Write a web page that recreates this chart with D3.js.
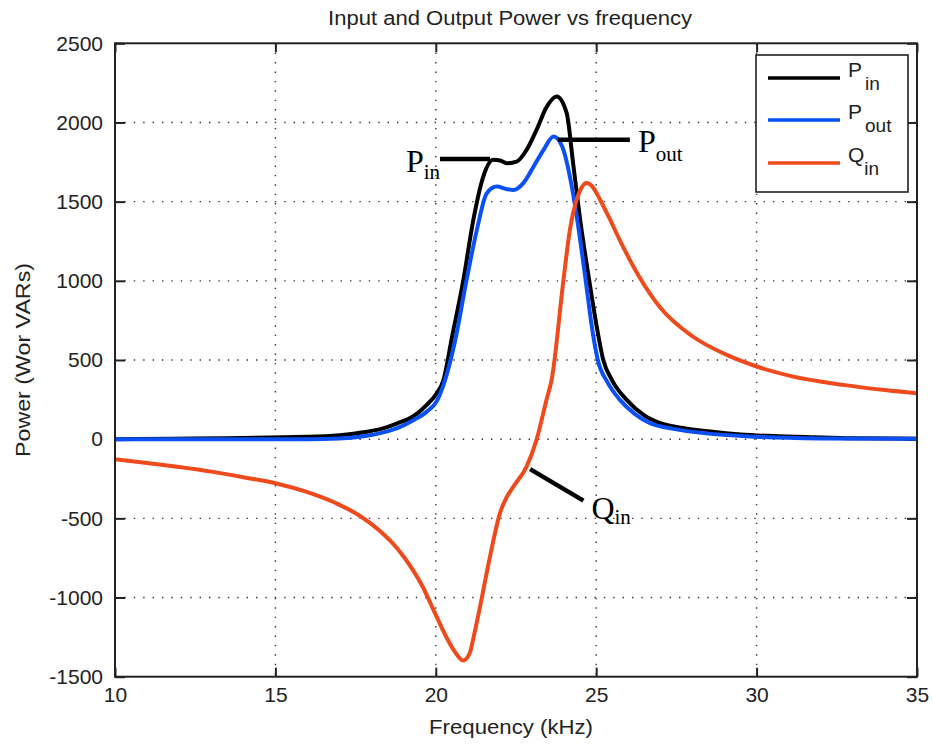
<!DOCTYPE html>
<html>
<head>
<meta charset="utf-8">
<script src="https://cdn.jsdelivr.net/npm/d3@7"></script>
<style>
  html, body { margin: 0; padding: 0; background: #fff; }
  svg { display: block; }
  text { font-family: "Liberation Sans", Arial, sans-serif; fill: #222; }
  .serif { font-family: "Liberation Serif", "Times New Roman", serif; fill: #000; }
</style>
</head>
<body>
<svg id="chart" width="933" height="746"></svg>
<script>
// ---- Data ----
const xTicks = [10, 15, 20, 25, 30, 35];
const yTicks = [-1500, -1000, -500, 0, 500, 1000, 1500, 2000, 2500];

const pinFreq = [10, 16, 17, 17.8, 18.3, 18.8, 19.3, 19.72, 20.03, 20.24, 20.5, 20.86, 21.17, 21.48, 21.79, 22.0, 22.21, 22.52, 22.83, 23.14, 23.46, 23.77, 24.08, 24.28, 24.5, 24.78, 25.0, 25.22, 25.5, 25.95, 26.5, 27.0, 27.7, 28.55, 29.5, 30.5, 31.8, 33, 35];
const pinVals = [0, 15, 25, 45, 65, 100, 145, 217, 290, 374, 640, 1006, 1385, 1658, 1764, 1760, 1743, 1753, 1827, 1953, 2100, 2164, 2059, 1743, 1385, 1006, 730, 500, 370, 248, 150, 101, 70, 48, 30, 20, 12, 6, 3];

const poutFreq = [10, 16, 17, 17.8, 18.3, 18.8, 19.3, 19.72, 20.03, 20.29, 20.6, 20.96, 21.28, 21.59, 21.9, 22.2, 22.42, 22.73, 23.05, 23.36, 23.67, 23.94, 24.2, 24.41, 24.67, 24.85, 25.05, 25.35, 25.74, 26.2, 26.68, 27.4, 28.5, 30, 32, 35];
const poutVals = [0, 0, 5, 20, 40, 70, 120, 174, 240, 374, 620, 1006, 1322, 1553, 1595, 1580, 1574, 1617, 1722, 1827, 1911, 1848, 1637, 1385, 1006, 730, 500, 360, 248, 160, 101, 65, 35, 15, 5, 2];

const qinFreq = [10, 11, 12, 13, 14, 15, 16, 17, 17.64, 18.26, 18.8, 19.3, 19.6, 19.92, 20.33, 20.6, 20.85, 21.06, 21.2, 21.38, 21.69, 22.0, 22.2, 22.42, 22.83, 23.14, 23.45, 23.61, 23.98, 24.18, 24.39, 24.55, 24.7, 24.9, 25.1, 25.4, 25.8, 26.3, 27.0, 28.0, 29.07, 30, 31.14, 32.7, 34, 35];
const qinVals = [-126, -150, -176, -205, -240, -278, -335, -415, -485, -580, -690, -830, -935, -1075, -1250, -1345, -1398, -1350, -1230, -1057, -741, -467, -370, -299, -173, -4, 248, 374, 1006, 1322, 1511, 1590, 1617, 1590, 1520, 1400, 1230, 1040, 830, 650, 532, 459, 395, 343, 310, 290];

const seriesNames = ["P", "P", "Q"];
const seriesSubs = ["in", "out", "in"];
const seriesColors = ["#000000", "#0a50f5", "#ef4a1c"];

// ---- Layout ----
const svg = d3.select("#chart");
const L = 115, R = 917, T = 43.3, B = 676.7;

const x = d3.scaleLinear().domain([10, 35]).range([L, R]);
const y = d3.scaleLinear().domain([-1500, 2500]).range([B, T]);

// grid
const grid = svg.append("g").attr("stroke", "#333").attr("stroke-width", 1.4)
  .attr("stroke-dasharray", "1.4,8").attr("fill", "none");
grid.selectAll(".gx").data(xTicks.slice(1, -1)).enter().append("line")
  .attr("x1", d => x(d)).attr("x2", d => x(d)).attr("y1", T).attr("y2", B);
grid.selectAll(".gy").data(yTicks.slice(1, -1)).enter().append("line")
  .attr("y1", d => y(d)).attr("y2", d => y(d)).attr("x1", L).attr("x2", R);

// axes
const fmt = d => String(d);
function styleAxis(g) {
  g.select(".domain").remove();
  g.selectAll(".tick line").attr("stroke", "#222").attr("stroke-width", 2);
  g.selectAll(".tick text").attr("font-size", 21).attr("fill", "#222")
    .attr("font-family", "Liberation Sans, Arial, sans-serif");
}
svg.append("g").attr("transform", `translate(0,${B})`)
  .call(d3.axisBottom(x).tickValues(xTicks).tickSize(-9).tickPadding(10).tickFormat(fmt))
  .call(styleAxis);
svg.append("g").attr("transform", `translate(0,${T})`)
  .call(d3.axisTop(x).tickValues(xTicks).tickSize(-9).tickFormat(""))
  .call(styleAxis);
svg.append("g").attr("transform", `translate(${L},0)`)
  .call(d3.axisLeft(y).tickValues(yTicks).tickSize(-10).tickPadding(12).tickFormat(fmt))
  .call(styleAxis);
svg.append("g").attr("transform", `translate(${R},0)`)
  .call(d3.axisRight(y).tickValues(yTicks).tickSize(-10).tickFormat(""))
  .call(styleAxis);

// clip
svg.append("clipPath").attr("id", "clip").append("rect")
  .attr("x", L).attr("y", T).attr("width", R - L).attr("height", B - T);

const line = d3.line().x(d => x(d[0])).y(d => y(d[1])).curve(d3.curveMonotoneX);
const series = [
  d3.zip(pinFreq, pinVals),
  d3.zip(poutFreq, poutVals),
  d3.zip(qinFreq, qinVals)
];
const plot = svg.append("g").attr("clip-path", "url(#clip)");
series.forEach((s, i) => {
  plot.append("path").datum(s).attr("d", line)
    .attr("fill", "none").attr("stroke", seriesColors[i])
    .attr("stroke-width", 4).attr("stroke-linejoin", "round");
});

// frame
svg.append("rect").attr("x", L).attr("y", T).attr("width", R - L).attr("height", B - T)
  .attr("fill", "none").attr("stroke", "#222").attr("stroke-width", 2);

// title & labels
svg.append("text").attr("x", 510).attr("y", 25).attr("text-anchor", "middle")
  .attr("font-size", 20).attr("textLength", 364).attr("lengthAdjust", "spacingAndGlyphs")
  .text("Input and Output Power vs frequency");
svg.append("text").attr("x", 511).attr("y", 734).attr("text-anchor", "middle")
  .attr("font-size", 21).attr("textLength", 164).attr("lengthAdjust", "spacingAndGlyphs")
  .text("Frequency (kHz)");
svg.append("text").attr("transform", `translate(30,${(T + B) / 2}) rotate(-90)`)
  .attr("text-anchor", "middle").attr("font-size", 21)
  .attr("textLength", 194).attr("lengthAdjust", "spacingAndGlyphs")
  .text("Power (Wor VARs)");

// legend
const lg = svg.append("g");
lg.append("rect").attr("x", 756).attr("y", 55).attr("width", 152).attr("height", 137)
  .attr("fill", "#fff").attr("stroke", "#222").attr("stroke-width", 1.6);
const legY = [78, 120, 163];
seriesNames.forEach((n, i) => {
  lg.append("line").attr("x1", 768).attr("x2", 840).attr("y1", legY[i]).attr("y2", legY[i])
    .attr("stroke", seriesColors[i]).attr("stroke-width", 3.4);
  const t = lg.append("text").attr("x", 848).attr("y", legY[i] - 1).attr("font-size", 21);
  t.append("tspan").text(n);
  t.append("tspan").attr("dx", i === 2 ? 0 : 3).attr("dy", 13).attr("font-size", 19).text(seriesSubs[i]);
});

// annotations
const ann = svg.append("g");
const annLines = [
  [20.13, 1770, 21.69, 1770],
  [23.81, 1891, 26.05, 1891],
  [22.94, -189, 24.6, -388]
];
annLines.forEach(a => {
  ann.append("line").attr("x1", x(a[0])).attr("y1", y(a[1])).attr("x2", x(a[2])).attr("y2", y(a[3]))
    .attr("stroke", "#000").attr("stroke-width", 4.5);
});
const annText = [
  {n: "P", s: "in", fx: 19.07, fv: 1688, sdy: 7},
  {n: "P", s: "out", fx: 26.3, fv: 1815, sdy: 9},
  {n: "Q", s: "in", fx: 24.85, fv: -505, sdy: 5}
];
annText.forEach(a => {
  const t = ann.append("text").attr("class", "serif").attr("x", x(a.fx)).attr("y", y(a.fv))
    .attr("font-size", 32);
  t.append("tspan").text(a.n);
  t.append("tspan").attr("dy", a.sdy).attr("font-size", 21).text(a.s);
});
</script>
</body>
</html>
